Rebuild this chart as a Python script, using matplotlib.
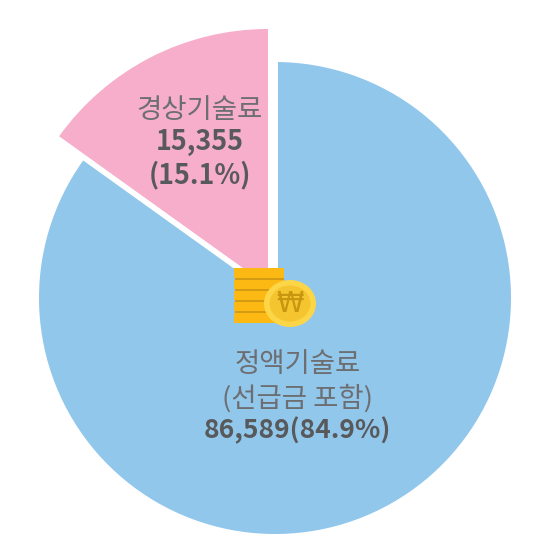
import matplotlib
matplotlib.use('Agg')
import matplotlib.pyplot as plt
from matplotlib.patches import Ellipse, Rectangle, Wedge

plt.rcParams['font.family'] = ['Noto Sans CJK KR', 'DejaVu Sans']

labels = ['정액기술료\n(선급금 포함)', '경상기술료']
values = [86589, 15355]
shares = [84.9, 15.1]
colors = ['#92c7ec', '#f6aeca']

W, H = 546, 545
fig = plt.figure(figsize=(W / 100, H / 100), dpi=100)
ax = fig.add_axes([0, 0, 1, 1])
ax.set_xlim(0, W)
ax.set_ylim(H, 0)
ax.axis('off')

# y axis is flipped, so the angles run clockwise from +x
a_main = 360 * shares[0] / 100
start = -90
ax.add_patch(Wedge((275, 298), 236, start, start + a_main, facecolor=colors[0], edgecolor='none'))
ax.add_patch(Rectangle((268, 40), 10, 240, facecolor='white', edgecolor='none', zorder=1.5))
ax.add_patch(Wedge((268, 286), 257, start + a_main, start + 360, facecolor=colors[1], edgecolor='none', zorder=2))

text_reg = '#6d6e71'
text_bold = '#58595b'
ax.text(199.5, 110, labels[1], ha='center', va='center', fontsize=19.8, color=text_reg, zorder=8)
ax.text(199.5, 142, f'{values[1]:,}', ha='center', va='center', fontsize=19.3, fontweight='bold', color=text_bold, zorder=8)
ax.text(199.5, 175, f'({shares[1]}%)', ha='center', va='center', fontsize=19.3, fontweight='bold', color=text_bold, zorder=8)

main_1, main_2 = labels[0].split('\n')
ax.text(298, 365, main_1, ha='center', va='center', fontsize=19.8, color=text_reg)
ax.text(298, 398, main_2, ha='center', va='center', fontsize=19.8, color=text_reg)
ax.text(297, 431, f'{values[0]:,}({shares[0]}%)', ha='center', va='center', fontsize=19, fontweight='bold', color=text_bold)

# coin stack icon
ax.add_patch(Rectangle((233.5, 268), 50.5, 55, facecolor='#fdb913', edgecolor='none', zorder=3))
for y in [277.5, 288.5, 299.5, 310.5]:
    ax.add_patch(Rectangle((235, y), 49, 2.5, facecolor='#d49a12', edgecolor='none', zorder=4))
    ax.add_patch(Rectangle((233.5, y), 1.5, 2.5, facecolor=colors[0], edgecolor='none', zorder=4))
ax.add_patch(Ellipse((290, 303.5), 52, 47, facecolor='#fdd648', edgecolor='none', zorder=5))
ax.add_patch(Ellipse((290, 303.5), 41, 36, facecolor='#f5c530', edgecolor='none', zorder=6))
ax.text(290, 304, '₩', ha='center', va='center', fontsize=20, color='#c9960f', zorder=7, family='DejaVu Sans')

fig.savefig('out.png', dpi=100)
